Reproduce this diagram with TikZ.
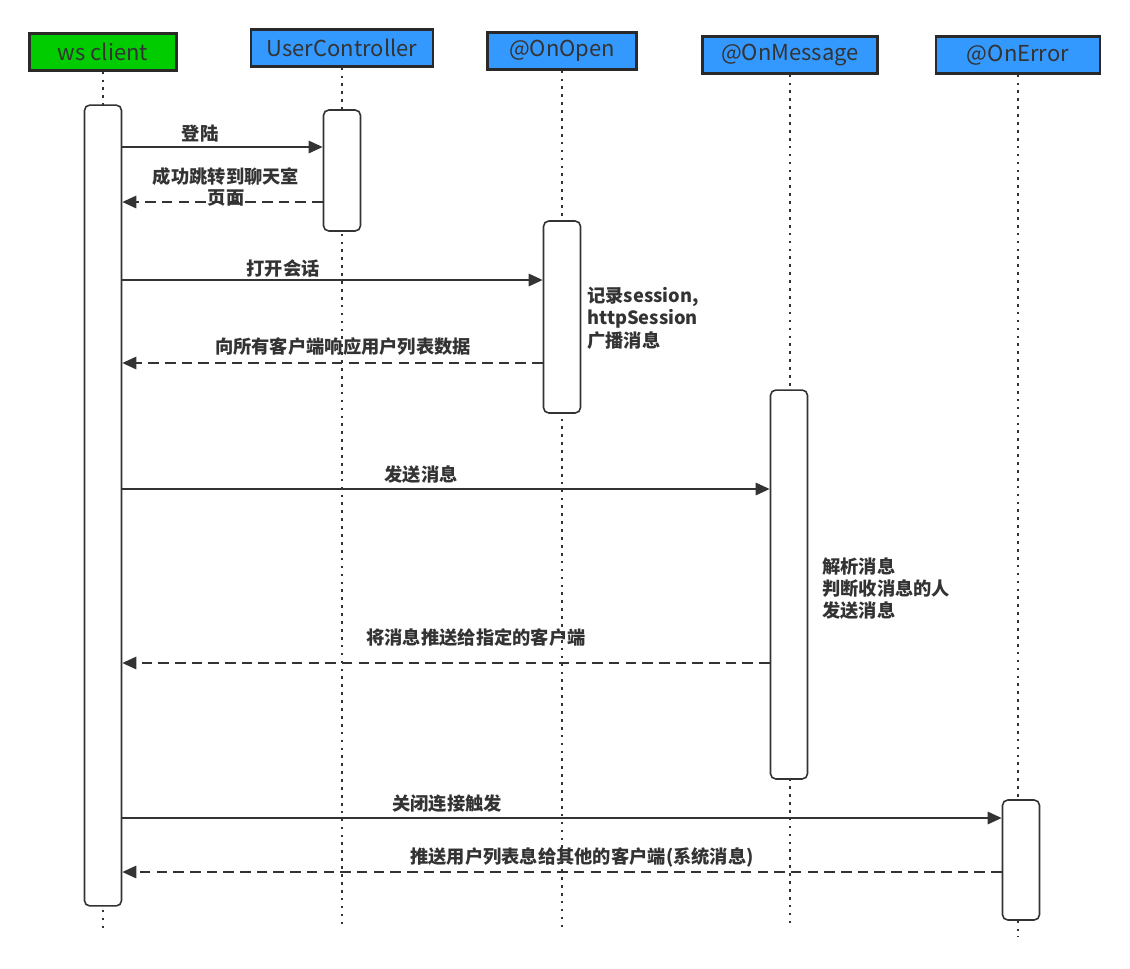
\documentclass[tikz,border=0pt]{standalone}
\usepackage{fontspec}
\setmainfont{Noto Sans CJK SC}
\usetikzlibrary{arrows.meta}
\definecolor{wsgreen}{RGB}{0,204,0}
\definecolor{ctlblue}{RGB}{51,153,255}
\definecolor{ink}{RGB}{51,51,51}
\tikzset{
  head/.style={draw=ink!80!black, line width=1.3pt, minimum height=0.74cm, inner sep=0pt, text=ink, font=\fontsize{12.5}{14}\selectfont},
  bar/.style={draw=ink, fill=white, line width=0.9pt, rounded corners=3pt, minimum width=0.74cm, inner sep=0pt},
  life/.style={draw=ink, line width=0.9pt, dash pattern=on 1.5pt off 3pt},
  call/.style={->, draw=ink, line width=1.25pt},
  back/.style={->, draw=ink, line width=1.25pt, dash pattern=on 6pt off 3.5pt},
  lbl/.style={text=ink, font=\fontsize{10.4}{12}\selectfont\bfseries, inner sep=0pt},
  note/.style={text=ink, font=\fontsize{10.4}{12.6}\selectfont\bfseries, inner sep=0pt, align=left, anchor=north west}
}
\begin{document}
\begin{tikzpicture}[x=0.02cm, y=-0.02cm, >={Triangle[length=8pt, width=7pt]}]
  \useasboundingbox (0,0) rectangle (1130,968);
  % les en-tetes
  \node[head, fill=wsgreen, minimum width=2.94cm] (ws) at (103,52) {ws client};
  \node[head, fill=ctlblue, minimum width=3.64cm] (uc) at (342,48) {UserController};
  \node[head, fill=ctlblue, minimum width=2.98cm] (open) at (562,51) {@OnOpen};
  \node[head, fill=ctlblue, minimum width=3.5cm] (msg) at (790,55) {@OnMessage};
  \node[head, fill=ctlblue, minimum width=3.28cm] (err) at (1018,55) {@OnError};
  % les lignes de vie
  \coordinate (wsend) at (103,930);
  \coordinate (ucend) at (342,928);
  \coordinate (openend) at (562,928);
  \coordinate (msgend) at (790,928);
  \coordinate (errend) at (1018,937);
  \draw[life] (ws.south) -- (wsend);
  \draw[life] (uc.south) -- (ucend);
  \draw[life] (open.south) -- (openend);
  \draw[life] (msg.south) -- (msgend);
  \draw[life] (err.south) -- (errend);
  % les barres d'activation
  \node[bar, minimum height=16.02cm] (wsbar) at (103,505.5) {};
  \node[bar, minimum height=2.42cm] (ucbar) at (342,170.5) {};
  \node[bar, minimum height=3.84cm] (openbar) at (562,317) {};
  \node[bar, minimum height=7.78cm] (msgbar) at (789,584.5) {};
  \node[bar, minimum height=2.4cm] (errbar) at (1021,860) {};
  % les messages
  \draw[call] (wsbar.east |- 0,147) -- (ucbar.west |- 0,147);
  \node[lbl] (login) at (200,134) {登陆};
  \draw[back] (ucbar.west |- 0,202) -- (wsbar.east |- 0,202);
  \node[lbl, align=center] (jump) at (226,187) {成功跳转到聊天室\\页面};
  \draw[call] (wsbar.east |- 0,280) -- (openbar.west |- 0,280);
  \node[lbl] (session) at (283,269) {打开会话};
  \draw[back] (openbar.west |- 0,363) -- (wsbar.east |- 0,363);
  \node[lbl] (userlist) at (343,347) {向所有客户端响应用户列表数据};
  \node[note] (opennote) at (587,287) {记录session,\\httpSession\\广播消息};
  \draw[call] (wsbar.east |- 0,489) -- (msgbar.west |- 0,489);
  \node[lbl] (send) at (421,475) {发送消息};
  \node[note] (msgnote) at (822,557) {解析消息\\判断收消息的人\\发送消息};
  \draw[back] (msgbar.west |- 0,663) -- (wsbar.east |- 0,663);
  \node[lbl] (push) at (476,638) {将消息推送给指定的客户端};
  \draw[call] (wsbar.east |- 0,818) -- (errbar.west |- 0,818);
  \node[lbl] (close) at (447,804) {关闭连接触发};
  \draw[back] (errbar.west |- 0,872) -- (wsbar.east |- 0,872);
  \node[lbl] (sys) at (582,857) {推送用户列表息给其他的客户端(系统消息)};
\end{tikzpicture}
\end{document}
